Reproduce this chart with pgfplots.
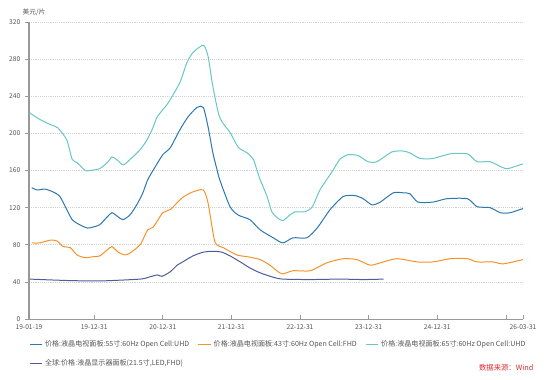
\documentclass[border=0pt]{standalone}
\usepackage{pgfplots}
\pgfplotsset{compat=1.18}
\usepackage{fontspec}
\setmainfont{Noto Sans CJK SC}
\definecolor{c55}{HTML}{2B78B0}
\definecolor{c43}{HTML}{F5922A}
\definecolor{c65}{HTML}{68C6C6}
\definecolor{cmon}{HTML}{4F5C9C}
\definecolor{txt}{HTML}{555555}
\definecolor{src}{HTML}{E0282E}
\begin{document}
\begin{tikzpicture}
\path[use as bounding box] (0,0) rectangle (414.75pt,-284.25pt);
\node[anchor=west, font=\fontsize{5}{6}\selectfont, text=txt] at (13.5pt,-9pt) {美元/片};
\node[anchor=east, font=\fontsize{5.5}{6}\selectfont, text=src] at (403.5pt,-276pt) {数据来源：Wind};
\begin{axis}[
  at={(21.75pt,-239.25pt)}, anchor=south west,
  scale only axis, width=370.5pt, height=222.75pt,
  xmin=2019.05, xmax=2026.25, ymin=0, ymax=320,
  axis x line*=bottom, axis y line*=left,
  axis line style={-, draw=gray!80},
  y axis line style={line width=1.2pt},
  ytick={0,40,...,320},
  xtick={2019.05,2020,2021,2022,2023,2024,2025,2026,2026.25},
  xticklabels={19-01-19,19-12-31,20-12-31,21-12-31,22-12-31,23-12-31,24-12-31,,26-03-31},
  ymajorgrids, major grid style={densely dotted, draw=gray!35, line width=0.5pt},
  major tick length=3pt,
  xtick align=inside, ytick align=outside,
  tick style={draw=gray!80, line width=0.5pt},
  /pgf/number format/assume math mode=true,
  tick label style={font=\fontsize{5}{6}\selectfont, text=txt},
  xticklabel style={yshift=-1pt},
  every axis plot/.append style={line width=0.75pt, smooth, tension=0.4},
  legend columns=3,
  legend cell align=left,
  legend style={at={(axis description cs:0,0)}, anchor=north west, yshift=-12pt, xshift=-3pt,
    draw=none, fill=none, font=\fontsize{5.3}{6}\selectfont, text=txt, row sep=4pt,
    /tikz/every even column/.append style={column sep=4.5pt}},
  legend image code/.code={\draw[#1, line width=0.75pt] (0cm,0cm) -- (0.32cm,0cm);},
]
\addplot[c55] coordinates {
(2019.09,141.5)(2019.17,139)(2019.28,140)(2019.40,137)(2019.50,132)(2019.60,118)(2019.68,107)
(2019.79,101.5)(2019.90,98)(2019.98,99)(2020.08,101.5)(2020.19,110)(2020.26,114.5)(2020.35,110)
(2020.42,107)(2020.52,112)(2020.62,123)(2020.71,136)(2020.78,150)(2020.89,164)(2021.00,177)
(2021.11,184.6)(2021.25,204)(2021.37,218)(2021.50,228)(2021.59,228)(2021.66,207)(2021.73,179)
(2021.79,161)(2021.83,150)(2021.98,121)(2022.10,112)(2022.27,107)(2022.42,96)(2022.61,87.5)
(2022.75,82)(2022.90,87.5)(2023.10,87.5)(2023.26,99)(2023.44,118)(2023.63,132)(2023.80,133)
(2023.92,129.6)(2024.05,123)(2024.17,126)(2024.36,136)(2024.50,136)(2024.60,135)(2024.72,126)
(2024.94,126)(2025.14,129.6)(2025.44,129.6)(2025.58,121)(2025.77,120)(2025.92,114.5)(2026.06,114.5)
(2026.25,119)};
\addlegendentry{价格:液晶电视面板:55寸:60Hz Open Cell:UHD}
\addplot[c43] coordinates {
(2019.09,82)(2019.21,82)(2019.36,85)(2019.46,84)(2019.55,78)(2019.65,77)(2019.75,69)(2019.87,66)
(2019.97,67)(2020.08,68)(2020.19,74.5)(2020.26,78)(2020.35,72)(2020.45,69)(2020.52,71)(2020.67,80)
(2020.78,96)(2020.86,99)(2021.00,114.5)(2021.11,118)(2021.29,131)(2021.44,137)(2021.59,139)
(2021.66,125)(2021.76,83)(2021.88,77)(2022.08,69)(2022.24,67)(2022.42,64)(2022.56,58)(2022.68,51)
(2022.75,48.6)(2022.90,52)(2023.15,52)(2023.39,60.5)(2023.63,65)(2023.83,64)(2024.02,58)
(2024.17,60.5)(2024.41,65)(2024.71,61.5)(2024.94,61.5)(2025.19,65)(2025.44,65)(2025.58,61.5)
(2025.81,61.5)(2025.96,59.4)(2026.25,64)};
\addlegendentry{价格:液晶电视面板:43寸:60Hz Open Cell:FHD}
\addplot[c65] coordinates {
(2019.06,222)(2019.21,215)(2019.36,209.5)(2019.47,206)(2019.60,193)(2019.68,172)(2019.75,168.5)
(2019.87,160)(2019.94,160)(2020.08,162)(2020.19,168.5)(2020.26,174.6)(2020.33,171.7)(2020.42,166)
(2020.52,171.7)(2020.67,182.5)(2020.77,193)(2020.85,205)(2020.92,218)(2021.08,233)(2021.25,255)
(2021.35,276)(2021.44,287)(2021.59,295)(2021.66,283)(2021.73,250.5)(2021.83,217)(2021.98,201)
(2022.10,185)(2022.23,179)(2022.32,172)(2022.37,161)(2022.42,150)(2022.52,132)(2022.59,115.5)
(2022.67,109)(2022.75,106)(2022.85,112)(2022.93,115.5)(2023.07,115.5)(2023.18,121)(2023.29,139)
(2023.47,159)(2023.58,172)(2023.70,177)(2023.85,176)(2023.99,169.5)(2024.12,169.5)(2024.34,180)
(2024.50,181)(2024.60,179)(2024.75,173)(2024.94,173)(2025.19,178)(2025.44,178)(2025.58,169.5)
(2025.77,169.5)(2025.96,163)(2026.03,162)(2026.16,165)(2026.25,167)};
\addlegendentry{价格:液晶电视面板:65寸:60Hz Open Cell:UHD}
\addplot[cmon] coordinates {
(2019.06,43)(2019.60,41.5)(2020.08,41)(2020.67,43)(2020.81,45.4)(2020.92,47.5)(2020.99,46)
(2021.11,51)(2021.21,58)(2021.29,61.5)(2021.44,68)(2021.59,72)(2021.73,73)(2021.86,72)(2021.98,68)
(2022.13,61.5)(2022.27,55)(2022.42,49.7)(2022.61,45)(2022.75,43)(2023.15,42.5)(2023.58,43)
(2023.92,42.5)(2024.22,43)};
\addlegendentry{全球:价格:液晶显示器面板(21.5寸,LED,FHD)}
\end{axis}
\end{tikzpicture}
\end{document}
